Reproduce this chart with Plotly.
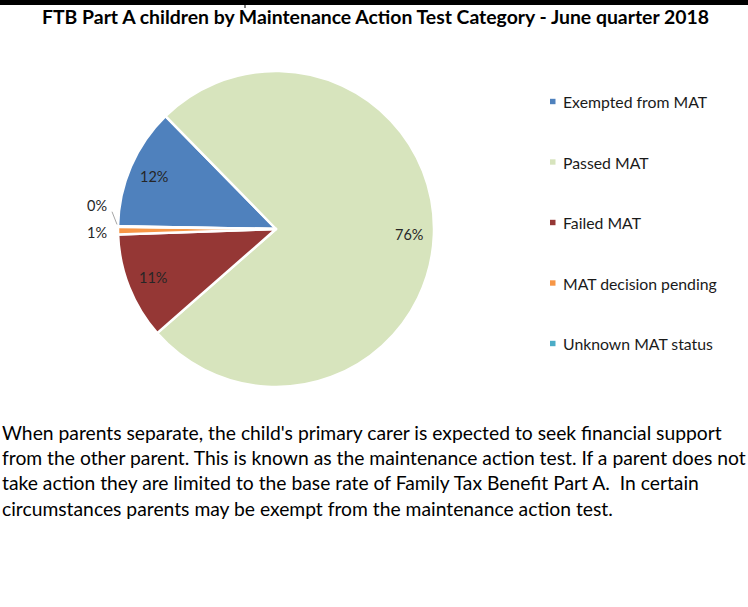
import math
import plotly.graph_objects as go

W, H = 748, 607

title_text = "FTB Part A children by Maintenance Action Test Category - June quarter 2018"
categories = ["Exempted from MAT", "Passed MAT", "Failed MAT", "MAT decision pending", "Unknown MAT status"]
values = [12.4, 75.9, 10.9, 0.8, 0.04]
colors = ["#4F81BD", "#D7E4BD", "#953735", "#F79646", "#4BACC6"]
paragraph_lines = [
    "When parents separate, the child's primary carer is expected to seek financial support",
    "from the other parent. This is known as the maintenance action test. If a parent does not",
    "take action they are limited to the base rate of Family Tax Benefit Part A.  In certain",
    "circumstances parents may be exempt from the maintenance action test.",
]

FONT = "Lato"
ROTATION = 271

def px_x(x):
    return x / W

def px_y(y):
    return 1 - y / H

cx, cy, r = 276, 229, 158

fig = go.Figure()
fig.add_trace(go.Pie(
    labels=categories,
    values=values,
    sort=False,
    direction="clockwise",
    rotation=ROTATION,
    marker=dict(colors=colors, line=dict(color="white", width=2.5)),
    textinfo="none",
    showlegend=False,
    hoverinfo="label+percent",
    domain=dict(x=[px_x(cx - r), px_x(cx + r)], y=[px_y(cy + r), px_y(cy - r)]),
))

total = sum(values)
annotations = [dict(
    text=title_text, x=px_x(375), y=px_y(17), xref="paper", yref="paper",
    xanchor="center", yanchor="middle", showarrow=False,
    font=dict(family=FONT, size=19.4, color="#000000", weight="bold"),
)]
shapes = [
    dict(type="line", xref="paper", yref="paper", x0=0, x1=1, y0=px_y(2.5), y1=px_y(2.5),
         line=dict(color="black", width=5), layer="above"),
    dict(type="line", xref="paper", yref="paper", x0=px_x(245), x1=px_x(245), y0=px_y(8), y1=1,
         line=dict(color="black", width=1)),
]

# slice data labels, positioned along each slice's mid-angle
cum = 0.0
mids = []
for v in values:
    mids.append(ROTATION + 360 * (cum + v / 2) / total)
    cum += v

def polar(theta_deg, rho):
    t = math.radians(theta_deg)
    return cx + rho * math.sin(t), cy - rho * math.cos(t)

label_font = dict(family=FONT, size=14.5, color="#262626")
for i, (v, th) in enumerate(zip(values, mids)):
    pct = f"{round(100 * v / total):.0f}%"
    if i < 3:
        x, y = polar(th, 0.84 * r)
        annotations.append(dict(text=pct, x=px_x(x), y=px_y(y), xref="paper", yref="paper",
                                xanchor="center", yanchor="middle", showarrow=False, font=label_font))
    elif i == 3:
        x, y = polar(th, r + 10)
        annotations.append(dict(text=pct, x=px_x(x + 1), y=px_y(y + 1.5), xref="paper", yref="paper",
                                xanchor="right", yanchor="middle", showarrow=False, font=label_font))
    else:
        x, y = polar(mids[3], r + 10)
        ly = y - 25
        annotations.append(dict(text=pct, x=px_x(x + 1), y=px_y(ly), xref="paper", yref="paper",
                                xanchor="right", yanchor="middle", showarrow=False, font=label_font))
        ex, ey = polar(th, r)
        shapes.append(dict(type="line", xref="paper", yref="paper",
                           x0=px_x(x + 4), y0=px_y(ly + 6), x1=px_x(ex - 1), y1=px_y(ey - 2),
                           line=dict(color="#A6A6A6", width=1)))

# legend
legend_y0, legend_step = 101.5, 60.5
for i, (cat, col) in enumerate(zip(categories, colors)):
    ly = legend_y0 + i * legend_step
    shapes.append(dict(type="rect", xref="paper", yref="paper",
                       x0=px_x(550), x1=px_x(555.5), y0=px_y(ly + 2.7), y1=px_y(ly - 2.7),
                       fillcolor=col, line=dict(width=0)))
    annotations.append(dict(text=cat, x=px_x(560.5), y=px_y(ly), xref="paper", yref="paper",
                            xanchor="left", yanchor="middle", showarrow=False,
                            font=dict(family=FONT, size=15.8, color="#1a1a1a")))

for i, line in enumerate(paragraph_lines):
    annotations.append(dict(
        text=line, x=0, y=px_y(432 + i * 25.4), xref="paper", yref="paper",
        xanchor="left", yanchor="middle", showarrow=False,
        font=dict(family=FONT, size=19.3, color="#000000"),
    ))

fig.update_layout(
    width=W, height=H,
    margin=dict(l=0, r=0, t=0, b=0),
    paper_bgcolor="white", plot_bgcolor="white",
    showlegend=False,
    annotations=annotations,
    shapes=shapes,
)

fig.write_html("out.html", config={"displayModeBar": False},
               post_script="document.body.style.margin='0px';")
